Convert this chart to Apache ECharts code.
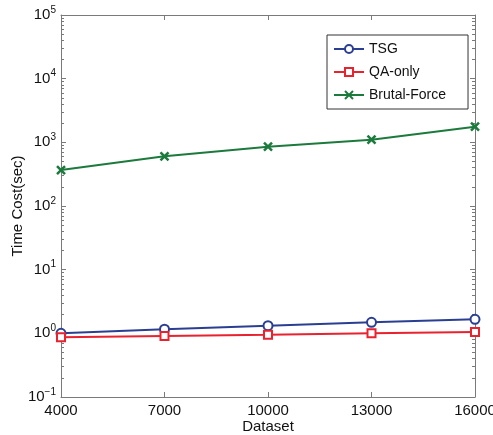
<!DOCTYPE html>
<html>
<head>
<meta charset="utf-8">
<script src="https://cdn.jsdelivr.net/npm/echarts@6/dist/echarts.min.js"></script>
<style>
  html, body { margin: 0; padding: 0; background: #fff; }
  #chart { width: 493px; height: 435px; }
</style>
</head>
<body>
<div id="chart"></div>
<script>
// data
const datasets = ['4000', '7000', '10000', '13000', '16000'];
const tsg = [1.0, 1.16, 1.32, 1.49, 1.66];
const qaOnly = [0.865, 0.91, 0.95, 1.0, 1.05];
const brutalForce = [367, 603, 855, 1102, 1763];
const decades = [-1, 0, 1, 2, 3, 4, 5];

// minor tick values 2..9 x 10^n
const minorTicks = [];
decades.slice(0, -1).forEach(d => {
  for (let k = 2; k <= 9; k++) minorTicks.push(+(k * Math.pow(10, d)).toPrecision(3));
});
const majorTicks = decades.map(d => Math.pow(10, d));

const font = 'Liberation Sans, Arial, Helvetica, sans-serif';
const axisColor = '#7a7a7a';

function yAxisBase(pos, minor) {
  return {
    type: 'log', logBase: 10, min: 0.1, max: 100000, position: pos,
    axisLine: { show: !minor, lineStyle: { color: axisColor, width: 1 } },
    axisTick: {
      show: true, inside: true, length: minor ? 3 : 5,
      customValues: minor ? minorTicks : majorTicks,
      lineStyle: { color: axisColor }
    },
    axisLabel: { show: false },
    splitLine: { show: false }
  };
}

const leftMajor = yAxisBase('left', false);
leftMajor.axisLabel = {
  show: true, margin: 5, fontFamily: font,
  customValues: majorTicks,
  formatter: v => {
    const e = Math.round(Math.log10(v));
    return '{b|10}{s|' + (e < 0 ? '\u2212' + (-e) : e) + '}';
  },
  rich: {
    b: { fontSize: 15, color: '#111', fontFamily: font, lineHeight: 18 },
    s: { fontSize: 10, color: '#111', fontFamily: font, lineHeight: 18, padding: [0, 0, 10, 0] }
  }
};
leftMajor.name = 'Time Cost(sec)';
leftMajor.nameLocation = 'middle';
leftMajor.nameGap = 36;
leftMajor.nameMoveOverlap = false;
leftMajor.nameTextStyle = { fontSize: 15, color: '#111', fontFamily: font };

function xAxisBase(pos, labels) {
  return {
    type: 'category', data: datasets, boundaryGap: false, position: pos,
    axisLine: { show: true, onZero: false, lineStyle: { color: axisColor } },
    axisTick: { show: true, inside: true, length: 5, lineStyle: { color: axisColor } },
    axisLabel: { show: labels, fontSize: 15, color: '#111', fontFamily: font, margin: 6 },
    splitLine: { show: false }
  };
}
const xBottom = xAxisBase('bottom', true);
xBottom.name = 'Dataset';
xBottom.nameLocation = 'middle';
xBottom.nameGap = 22;
xBottom.nameMoveOverlap = false;
xBottom.nameTextStyle = { fontSize: 15, color: '#111', fontFamily: font };

const chart = echarts.init(document.getElementById('chart'));
chart.setOption({
  backgroundColor: '#fff',
  animation: false,
  grid: { left: 61, right: 18, top: 15, bottom: 38, containLabel: false, outerBoundsMode: 'none' },
  xAxis: [xBottom, xAxisBase('top', false)],
  yAxis: [leftMajor, yAxisBase('left', true), yAxisBase('right', false), yAxisBase('right', true)],
  legend: {
    orient: 'vertical', left: 327, top: 35,
    padding: [7, 22, 7, 6], itemGap: 9, itemWidth: 30, itemHeight: 10,
    borderColor: '#333', borderWidth: 1, backgroundColor: '#fff',
    textStyle: { fontSize: 14, color: '#111', fontFamily: font },
    data: ['TSG', 'QA-only', 'Brutal-Force']
  },
  series: [
    {
      name: 'TSG', type: 'line', data: tsg, symbol: 'circle', symbolSize: 9,
      lineStyle: { color: '#2b3f92', width: 2 },
      itemStyle: { color: '#fff', borderColor: '#2b3f92', borderWidth: 2 }
    },
    {
      name: 'QA-only', type: 'line', data: qaOnly, symbol: 'rect', symbolSize: 8,
      lineStyle: { color: '#e8222e', width: 2 },
      itemStyle: { color: '#fff', borderColor: '#e8222e', borderWidth: 2 }
    },
    {
      name: 'Brutal-Force', type: 'line', data: brutalForce,
      symbol: 'path://M0,0L10,10M10,0L0,10', symbolSize: 8,
      lineStyle: { color: '#1b7a3c', width: 2 },
      itemStyle: { color: 'none', borderColor: '#1b7a3c', borderWidth: 2.5 }
    }
  ]
});
</script>
</body>
</html>
